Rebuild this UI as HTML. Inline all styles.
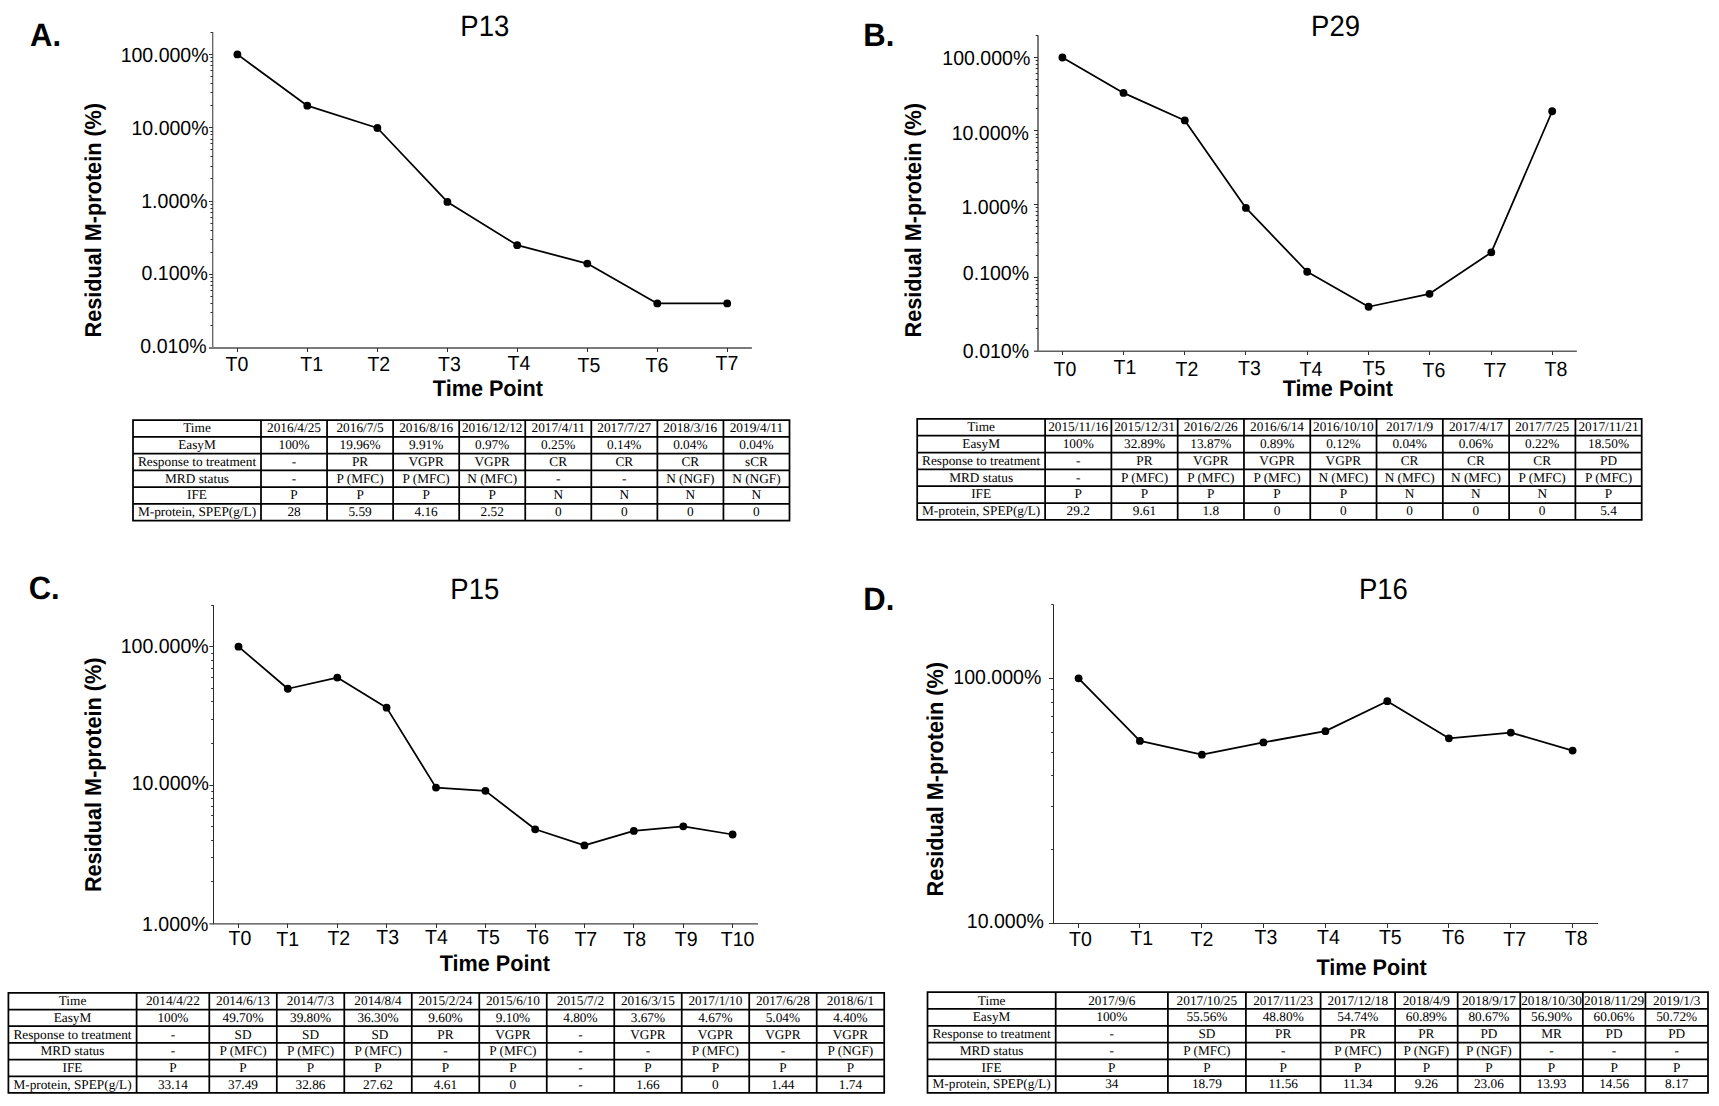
<!DOCTYPE html>
<html lang="en">
<head>
<meta charset="utf-8">
<title>Residual M-protein over time (P13, P29, P15, P16)</title>
<style>
html,body{margin:0;padding:0;background:#fff;}
body{width:1719px;height:1106px;overflow:hidden;position:relative;font-family:"Liberation Sans", Arial, Helvetica, sans-serif;color:#000;}
#fig{position:absolute;left:0;top:0;width:1719px;height:1106px;display:block;}
svg text{font-family:"Liberation Sans", Arial, Helvetica, sans-serif;fill:#000;text-rendering:geometricPrecision;}
.panel{font-size:31px;font-weight:bold;}
.title{font-size:27.5px;}
.tick{font-size:19.55px;}
.lab{font-size:21.65px;font-weight:bold;}
table.dt{position:absolute;border-collapse:collapse;table-layout:fixed;border-spacing:0;font-family:"Liberation Serif", "Times New Roman", Times, serif;font-size:13.3px;text-rendering:geometricPrecision;}
table.dt th,table.dt td{padding:0;margin:0;border:0;font-weight:normal;text-align:center;white-space:nowrap;overflow:visible;vertical-align:middle;}

#table-A tr{height:16.75px;line-height:16.75px;}
#table-B tr{height:16.83px;line-height:16.83px;}
#table-C tr{height:16.68px;line-height:16.68px;}
#table-D tr{height:16.78px;line-height:16.78px;}
</style>
</head>
<body>
<svg id="fig" role="img" aria-label="Residual M-protein (%) over time points for patients P13, P29, P15 and P16" width="1719" height="1106" viewBox="0 0 1719 1106">
<g class="chart" id="chart-A">
<path class="yaxis" d="M212.75 32.1V349" fill="none" stroke="#3c3c3c" stroke-width="1.05"/>
<path class="xaxis" d="M209 348H751.9" fill="none" stroke="#7a7a7a" stroke-width="2.0"/>
<path class="ticks" d="M210.45 32.5H212.75M210.45 105.5H212.75M210.45 92.5H212.75M210.45 83.5H212.75M210.45 76.5H212.75M210.45 70.5H212.75M210.45 65.5H212.75M210.45 61.5H212.75M210.45 57.5H212.75M210.45 178.5H212.75M210.45 166.5H212.75M210.45 156.5H212.75M210.45 149.5H212.75M210.45 143.5H212.75M210.45 139.5H212.75M210.45 134.5H212.75M210.45 131.5H212.75M210.45 252.5H212.75M210.45 239.5H212.75M210.45 230.5H212.75M210.45 223.5H212.75M210.45 217.5H212.75M210.45 212.5H212.75M210.45 208.5H212.75M210.45 204.5H212.75M210.45 325.5H212.75M210.45 312.5H212.75M210.45 303.5H212.75M210.45 296.5H212.75M210.45 290.5H212.75M210.45 285.5H212.75M210.45 281.5H212.75M210.45 277.5H212.75M209 54.5H212.75M209 127.5H212.75M209 201.5H212.75M209 274.5H212.75M237.5 348V352M307.5 348V352M377.5 348V352M447.5 348V352M517.5 348V352M587.5 348V352M657.5 348V352M727.5 348V352" fill="none" stroke="#2e2e2e" stroke-width="1"/>
<polyline class="series" points="237.4,54.4 307.3,105.7 377.4,127.99 447.4,201.97 517.2,245.13 587.3,263.59 657.3,303.47 727.2,303.47" fill="none" stroke="#000" stroke-width="1.75" stroke-linejoin="round"/>
<circle cx="237.4" cy="54.4" r="3.9"/>
<circle cx="307.3" cy="105.7" r="3.9"/>
<circle cx="377.4" cy="127.99" r="3.9"/>
<circle cx="447.4" cy="201.97" r="3.9"/>
<circle cx="517.2" cy="245.13" r="3.9"/>
<circle cx="587.3" cy="263.59" r="3.9"/>
<circle cx="657.3" cy="303.47" r="3.9"/>
<circle cx="727.2" cy="303.47" r="3.9"/>
<text class="panel" transform="translate(30 46.3) scale(1 1.045)">A.</text>
<text class="title" transform="translate(460.3 36.45) scale(1 1.07)">P13</text>
<text class="tick" transform="translate(208.6 61.5) scale(1 1.048)" text-anchor="end">100.000%</text>
<text class="tick" transform="translate(208.6 135.4) scale(1 1.048)" text-anchor="end">10.000%</text>
<text class="tick" transform="translate(207.5 207.6) scale(1 1.048)" text-anchor="end">1.000%</text>
<text class="tick" transform="translate(207.8 279.8) scale(1 1.048)" text-anchor="end">0.100%</text>
<text class="tick" transform="translate(206.6 353.4) scale(1 1.048)" text-anchor="end">0.010%</text>
<text class="tick" transform="translate(225.5 370.7) scale(1 1.048)">T0</text>
<text class="tick" transform="translate(300.2 371.2) scale(1 1.048)">T1</text>
<text class="tick" transform="translate(367.4 371.2) scale(1 1.048)">T2</text>
<text class="tick" transform="translate(438.1 370.9) scale(1 1.048)">T3</text>
<text class="tick" transform="translate(507.5 370.4) scale(1 1.048)">T4</text>
<text class="tick" transform="translate(577.6 371.5) scale(1 1.048)">T5</text>
<text class="tick" transform="translate(645.6 371.5) scale(1 1.048)">T6</text>
<text class="tick" transform="translate(715.6 370.4) scale(1 1.048)">T7</text>
<text class="lab" transform="translate(432.8 395.6) scale(1 1.05)">Time Point</text>
<text class="lab" transform="translate(100.9 337.4) rotate(-90) scale(1 1.06)">Residual M-protein (%)</text>
</g>
<g class="chart" id="chart-B">
<path class="yaxis" d="M1038 35.3V352" fill="none" stroke="#7c7c7c" stroke-width="2.0"/>
<path class="xaxis" d="M1034 351.3H1576.9" fill="none" stroke="#606060" stroke-width="1.4"/>
<path class="ticks" d="M1035.7 35.5H1038M1035.7 108.5H1038M1035.7 95.5H1038M1035.7 86.5H1038M1035.7 79.5H1038M1035.7 73.5H1038M1035.7 68.5H1038M1035.7 64.5H1038M1035.7 60.5H1038M1035.7 182.5H1038M1035.7 169.5H1038M1035.7 160.5H1038M1035.7 152.5H1038M1035.7 147.5H1038M1035.7 142.5H1038M1035.7 137.5H1038M1035.7 134.5H1038M1035.7 255.5H1038M1035.7 242.5H1038M1035.7 233.5H1038M1035.7 226.5H1038M1035.7 220.5H1038M1035.7 215.5H1038M1035.7 211.5H1038M1035.7 207.5H1038M1035.7 328.5H1038M1035.7 315.5H1038M1035.7 306.5H1038M1035.7 299.5H1038M1035.7 293.5H1038M1035.7 288.5H1038M1035.7 284.5H1038M1035.7 280.5H1038M1034 57.5H1038M1034 130.5H1038M1034 204.5H1038M1034 277.5H1038M1062.5 351.3V355M1123.5 351.3V355M1184.5 351.3V355M1245.5 351.3V355M1307.5 351.3V355M1368.5 351.3V355M1429.5 351.3V355M1491.5 351.3V355M1552.5 351.3V355" fill="none" stroke="#2e2e2e" stroke-width="1"/>
<polyline class="series" points="1062.4,57.5 1123.5,92.92 1184.8,120.43 1245.9,207.91 1307.2,271.74 1368.6,306.74 1429.5,293.82 1491.3,252.43 1552.2,111.25" fill="none" stroke="#000" stroke-width="1.75" stroke-linejoin="round"/>
<circle cx="1062.4" cy="57.5" r="3.9"/>
<circle cx="1123.5" cy="92.92" r="3.9"/>
<circle cx="1184.8" cy="120.43" r="3.9"/>
<circle cx="1245.9" cy="207.91" r="3.9"/>
<circle cx="1307.2" cy="271.74" r="3.9"/>
<circle cx="1368.6" cy="306.74" r="3.9"/>
<circle cx="1429.5" cy="293.82" r="3.9"/>
<circle cx="1491.3" cy="252.43" r="3.9"/>
<circle cx="1552.2" cy="111.25" r="3.9"/>
<text class="panel" transform="translate(863.3 46.1) scale(1 1.045)">B.</text>
<text class="title" transform="translate(1311.1 35.9) scale(1 1.07)">P29</text>
<text class="tick" transform="translate(1030.3 65.45) scale(1 1.048)" text-anchor="end">100.000%</text>
<text class="tick" transform="translate(1028.8 139.5) scale(1 1.048)" text-anchor="end">10.000%</text>
<text class="tick" transform="translate(1027.8 213.8) scale(1 1.048)" text-anchor="end">1.000%</text>
<text class="tick" transform="translate(1029.1 280.3) scale(1 1.048)" text-anchor="end">0.100%</text>
<text class="tick" transform="translate(1029.1 357.6) scale(1 1.048)" text-anchor="end">0.010%</text>
<text class="tick" transform="translate(1053.5 375.9) scale(1 1.048)">T0</text>
<text class="tick" transform="translate(1113.5 374.1) scale(1 1.048)">T1</text>
<text class="tick" transform="translate(1175.6 375.9) scale(1 1.048)">T2</text>
<text class="tick" transform="translate(1238 375.4) scale(1 1.048)">T3</text>
<text class="tick" transform="translate(1299.6 376.2) scale(1 1.048)">T4</text>
<text class="tick" transform="translate(1362.6 374.9) scale(1 1.048)">T5</text>
<text class="tick" transform="translate(1422.6 376.7) scale(1 1.048)">T6</text>
<text class="tick" transform="translate(1483.7 377) scale(1 1.048)">T7</text>
<text class="tick" transform="translate(1544.5 375.9) scale(1 1.048)">T8</text>
<text class="lab" transform="translate(1282.75 395.5) scale(1 1.05)">Time Point</text>
<text class="lab" transform="translate(920.9 337.4) rotate(-90) scale(1 1.06)">Residual M-protein (%)</text>
</g>
<g class="chart" id="chart-C">
<path class="yaxis" d="M213.5 605.1V924.38" fill="none" stroke="#2a2a2a" stroke-width="1.0"/>
<path class="xaxis" d="M209.4 923.78H758" fill="none" stroke="#444" stroke-width="1.2"/>
<path class="ticks" d="M211.2 605.5H213.5M211.2 743.5H213.5M211.2 719.5H213.5M211.2 701.5H213.5M211.2 688.5H213.5M211.2 677.5H213.5M211.2 668.5H213.5M211.2 660.5H213.5M211.2 653.5H213.5M211.2 881.5H213.5M211.2 857.5H213.5M211.2 840.5H213.5M211.2 826.5H213.5M211.2 815.5H213.5M211.2 806.5H213.5M211.2 798.5H213.5M211.2 791.5H213.5M209.4 646.5H213.5M209.4 785.5H213.5M238.5 923.78V928M287.5 923.78V928M337.5 923.78V928M386.5 923.78V928M436.5 923.78V928M485.5 923.78V928M535.5 923.78V928M584.5 923.78V928M633.5 923.78V928M683.5 923.78V928M732.5 923.78V928" fill="none" stroke="#2e2e2e" stroke-width="1"/>
<polyline class="series" points="238.5,646.7 287.8,688.74 337.3,677.62 386.6,707.63 436,787.6 485.4,790.82 535.2,829.28 584.4,845.42 633.8,830.93 683.3,826.35 732.6,834.51" fill="none" stroke="#000" stroke-width="1.75" stroke-linejoin="round"/>
<circle cx="238.5" cy="646.7" r="3.9"/>
<circle cx="287.8" cy="688.74" r="3.9"/>
<circle cx="337.3" cy="677.62" r="3.9"/>
<circle cx="386.6" cy="707.63" r="3.9"/>
<circle cx="436" cy="787.6" r="3.9"/>
<circle cx="485.4" cy="790.82" r="3.9"/>
<circle cx="535.2" cy="829.28" r="3.9"/>
<circle cx="584.4" cy="845.42" r="3.9"/>
<circle cx="633.8" cy="830.93" r="3.9"/>
<circle cx="683.3" cy="826.35" r="3.9"/>
<circle cx="732.6" cy="834.51" r="3.9"/>
<text class="panel" transform="translate(28.7 599) scale(1 1.045)">C.</text>
<text class="title" transform="translate(450.3 599.3) scale(1 1.07)">P15</text>
<text class="tick" transform="translate(208.7 653) scale(1 1.048)" text-anchor="end">100.000%</text>
<text class="tick" transform="translate(208.75 789.9) scale(1 1.048)" text-anchor="end">10.000%</text>
<text class="tick" transform="translate(208.3 930.6) scale(1 1.048)" text-anchor="end">1.000%</text>
<text class="tick" transform="translate(228.5 944.9) scale(1 1.048)">T0</text>
<text class="tick" transform="translate(276.2 945.5) scale(1 1.048)">T1</text>
<text class="tick" transform="translate(327.4 944.6) scale(1 1.048)">T2</text>
<text class="tick" transform="translate(376.2 944.2) scale(1 1.048)">T3</text>
<text class="tick" transform="translate(425 943.9) scale(1 1.048)">T4</text>
<text class="tick" transform="translate(477 943.6) scale(1 1.048)">T5</text>
<text class="tick" transform="translate(526.4 943.6) scale(1 1.048)">T6</text>
<text class="tick" transform="translate(574.4 945.5) scale(1 1.048)">T7</text>
<text class="tick" transform="translate(623.2 945.7) scale(1 1.048)">T8</text>
<text class="tick" transform="translate(674.7 946) scale(1 1.048)">T9</text>
<text class="tick" transform="translate(720.8 946.3) scale(1 1.048)">T10</text>
<text class="lab" transform="translate(439.65 970.7) scale(1 1.05)">Time Point</text>
<text class="lab" transform="translate(101.1 892.1) rotate(-90) scale(1 1.06)">Residual M-protein (%)</text>
</g>
<g class="chart" id="chart-D">
<path class="yaxis" d="M1053.5 604.6V924.1" fill="none" stroke="#262626" stroke-width="1.0"/>
<path class="xaxis" d="M1049 923.55H1598" fill="none" stroke="#333" stroke-width="1.1"/>
<path class="ticks" d="M1051.2 604.5H1053.5M1051.2 849.5H1053.5M1051.2 806.5H1053.5M1051.2 775.5H1053.5M1051.2 752.5H1053.5M1051.2 732.5H1053.5M1051.2 716.5H1053.5M1051.2 702.5H1053.5M1051.2 689.5H1053.5M1049 678.5H1053.5M1078.5 923.55V928M1139.5 923.55V928M1201.5 923.55V928M1263.5 923.55V928M1325.5 923.55V928M1387.5 923.55V928M1448.5 923.55V928M1510.5 923.55V928M1572.5 923.55V928" fill="none" stroke="#2e2e2e" stroke-width="1"/>
<polyline class="series" points="1078.6,678.3 1139.9,740.88 1201.9,754.7 1263.4,742.47 1325.4,731.13 1387.3,701.17 1448.9,738.35 1510.8,732.59 1572.6,750.59" fill="none" stroke="#000" stroke-width="1.75" stroke-linejoin="round"/>
<circle cx="1078.6" cy="678.3" r="3.9"/>
<circle cx="1139.9" cy="740.88" r="3.9"/>
<circle cx="1201.9" cy="754.7" r="3.9"/>
<circle cx="1263.4" cy="742.47" r="3.9"/>
<circle cx="1325.4" cy="731.13" r="3.9"/>
<circle cx="1387.3" cy="701.17" r="3.9"/>
<circle cx="1448.9" cy="738.35" r="3.9"/>
<circle cx="1510.8" cy="732.59" r="3.9"/>
<circle cx="1572.6" cy="750.59" r="3.9"/>
<text class="panel" transform="translate(863.3 609.9) scale(1 1.045)">D.</text>
<text class="title" transform="translate(1358.9 599.3) scale(1 1.07)">P16</text>
<text class="tick" transform="translate(1041.3 683.5) scale(1 1.048)" text-anchor="end">100.000%</text>
<text class="tick" transform="translate(1043.9 928.2) scale(1 1.048)" text-anchor="end">10.000%</text>
<text class="tick" transform="translate(1069 945.5) scale(1 1.048)">T0</text>
<text class="tick" transform="translate(1130.3 944.7) scale(1 1.048)">T1</text>
<text class="tick" transform="translate(1190.6 945.5) scale(1 1.048)">T2</text>
<text class="tick" transform="translate(1254.6 943.9) scale(1 1.048)">T3</text>
<text class="tick" transform="translate(1317 944.1) scale(1 1.048)">T4</text>
<text class="tick" transform="translate(1378.9 943.6) scale(1 1.048)">T5</text>
<text class="tick" transform="translate(1441.9 943.6) scale(1 1.048)">T6</text>
<text class="tick" transform="translate(1503.2 945.5) scale(1 1.048)">T7</text>
<text class="tick" transform="translate(1564.8 944.7) scale(1 1.048)">T8</text>
<text class="lab" transform="translate(1316.45 975) scale(1 1.05)">Time Point</text>
<text class="lab" transform="translate(942.9 896.5) rotate(-90) scale(1 1.06)">Residual M-protein (%)</text>
</g>
<path class="grid" id="grid-A" d="M132.12 420H790.38M132.12 436.75H790.38M132.12 453.5H790.38M132.12 470.25H790.38M132.12 487H790.38M132.12 503.75H790.38M132.12 520.5H790.38M133 420V520.5M261 420V520.5M327.06 420V520.5M393.12 420V520.5M459.19 420V520.5M525.25 420V520.5M591.31 420V520.5M657.38 420V520.5M723.44 420V520.5M789.5 420V520.5" fill="none" stroke="#000" stroke-width="1.75"/>
<path class="grid" id="grid-B" d="M916.33 418.85H1642.58M916.33 435.68H1642.58M916.33 452.51H1642.58M916.33 469.34H1642.58M916.33 486.17H1642.58M916.33 503H1642.58M916.33 519.83H1642.58M917.2 418.85V519.83M1045.1 418.85V519.83M1111.39 418.85V519.83M1177.68 418.85V519.83M1243.97 418.85V519.83M1310.26 418.85V519.83M1376.54 418.85V519.83M1442.83 418.85V519.83M1509.12 418.85V519.83M1575.41 418.85V519.83M1641.7 418.85V519.83" fill="none" stroke="#000" stroke-width="1.75"/>
<path class="grid" id="grid-C" d="M7.53 992.85H885.08M7.53 1009.53H885.08M7.53 1026.21H885.08M7.53 1042.89H885.08M7.53 1059.57H885.08M7.53 1076.25H885.08M7.53 1092.93H885.08M8.4 992.85V1092.93M136.6 992.85V1092.93M209.3 992.85V1092.93M276.79 992.85V1092.93M344.28 992.85V1092.93M411.77 992.85V1092.93M479.26 992.85V1092.93M546.75 992.85V1092.93M614.24 992.85V1092.93M681.73 992.85V1092.93M749.22 992.85V1092.93M816.71 992.85V1092.93M884.2 992.85V1092.93" fill="none" stroke="#000" stroke-width="1.75"/>
<path class="grid" id="grid-D" d="M926.62 992.2H1708.88M926.62 1008.98H1708.88M926.62 1025.76H1708.88M926.62 1042.54H1708.88M926.62 1059.32H1708.88M926.62 1076.1H1708.88M926.62 1092.88H1708.88M927.5 992.2V1092.88M1055.7 992.2V1092.88M1167.9 992.2V1092.88M1245.9 992.2V1092.88M1320.6 992.2V1092.88M1395.1 992.2V1092.88M1457.68 992.2V1092.88M1520.26 992.2V1092.88M1582.84 992.2V1092.88M1645.42 992.2V1092.88M1708 992.2V1092.88" fill="none" stroke="#000" stroke-width="1.75"/>
</svg>
<table class="dt" id="table-A" style="left:133px;top:420.3px;width:656.5px;height:100.5px">
<colgroup><col style="width:128px"><col style="width:66.06px"><col style="width:66.06px"><col style="width:66.06px"><col style="width:66.06px"><col style="width:66.06px"><col style="width:66.06px"><col style="width:66.06px"><col style="width:66.06px"></colgroup>
<tbody>
<tr><th scope="row">Time</th><td>2016/4/25</td><td>2016/7/5</td><td>2016/8/16</td><td>2016/12/12</td><td>2017/4/11</td><td>2017/7/27</td><td>2018/3/16</td><td>2019/4/11</td></tr>
<tr><th scope="row">EasyM</th><td>100%</td><td>19.96%</td><td>9.91%</td><td>0.97%</td><td>0.25%</td><td>0.14%</td><td>0.04%</td><td>0.04%</td></tr>
<tr><th scope="row">Response to treatment</th><td>-</td><td>PR</td><td>VGPR</td><td>VGPR</td><td>CR</td><td>CR</td><td>CR</td><td>sCR</td></tr>
<tr><th scope="row">MRD status</th><td>-</td><td>P (MFC)</td><td>P (MFC)</td><td>N (MFC)</td><td>-</td><td>-</td><td>N (NGF)</td><td>N (NGF)</td></tr>
<tr><th scope="row">IFE</th><td>P</td><td>P</td><td>P</td><td>P</td><td>N</td><td>N</td><td>N</td><td>N</td></tr>
<tr><th scope="row">M-protein, SPEP(g/L)</th><td>28</td><td>5.59</td><td>4.16</td><td>2.52</td><td>0</td><td>0</td><td>0</td><td>0</td></tr>
</tbody></table>
<table class="dt" id="table-B" style="left:917.2px;top:419.15px;width:724.5px;height:100.98px">
<colgroup><col style="width:127.9px"><col style="width:66.29px"><col style="width:66.29px"><col style="width:66.29px"><col style="width:66.29px"><col style="width:66.29px"><col style="width:66.29px"><col style="width:66.29px"><col style="width:66.29px"><col style="width:66.29px"></colgroup>
<tbody>
<tr><th scope="row">Time</th><td>2015/11/16</td><td>2015/12/31</td><td>2016/2/26</td><td>2016/6/14</td><td>2016/10/10</td><td>2017/1/9</td><td>2017/4/17</td><td>2017/7/25</td><td>2017/11/21</td></tr>
<tr><th scope="row">EasyM</th><td>100%</td><td>32.89%</td><td>13.87%</td><td>0.89%</td><td>0.12%</td><td>0.04%</td><td>0.06%</td><td>0.22%</td><td>18.50%</td></tr>
<tr><th scope="row">Response to treatment</th><td>-</td><td>PR</td><td>VGPR</td><td>VGPR</td><td>VGPR</td><td>CR</td><td>CR</td><td>CR</td><td>PD</td></tr>
<tr><th scope="row">MRD status</th><td>-</td><td>P (MFC)</td><td>P (MFC)</td><td>P (MFC)</td><td>N (MFC)</td><td>N (MFC)</td><td>N (MFC)</td><td>P (MFC)</td><td>P (MFC)</td></tr>
<tr><th scope="row">IFE</th><td>P</td><td>P</td><td>P</td><td>P</td><td>P</td><td>N</td><td>N</td><td>N</td><td>P</td></tr>
<tr><th scope="row">M-protein, SPEP(g/L)</th><td>29.2</td><td>9.61</td><td>1.8</td><td>0</td><td>0</td><td>0</td><td>0</td><td>0</td><td>5.4</td></tr>
</tbody></table>
<table class="dt" id="table-C" style="left:8.4px;top:993.15px;width:875.8px;height:100.08px">
<colgroup><col style="width:128.2px"><col style="width:72.7px"><col style="width:67.49px"><col style="width:67.49px"><col style="width:67.49px"><col style="width:67.49px"><col style="width:67.49px"><col style="width:67.49px"><col style="width:67.49px"><col style="width:67.49px"><col style="width:67.49px"><col style="width:67.49px"></colgroup>
<tbody>
<tr><th scope="row">Time</th><td>2014/4/22</td><td>2014/6/13</td><td>2014/7/3</td><td>2014/8/4</td><td>2015/2/24</td><td>2015/6/10</td><td>2015/7/2</td><td>2016/3/15</td><td>2017/1/10</td><td>2017/6/28</td><td>2018/6/1</td></tr>
<tr><th scope="row">EasyM</th><td>100%</td><td>49.70%</td><td>39.80%</td><td>36.30%</td><td>9.60%</td><td>9.10%</td><td>4.80%</td><td>3.67%</td><td>4.67%</td><td>5.04%</td><td>4.40%</td></tr>
<tr><th scope="row">Response to treatment</th><td>-</td><td>SD</td><td>SD</td><td style="padding-left:4px">SD</td><td>PR</td><td>VGPR</td><td>-</td><td>VGPR</td><td>VGPR</td><td>VGPR</td><td>VGPR</td></tr>
<tr><th scope="row">MRD status</th><td>-</td><td>P (MFC)</td><td>P (MFC)</td><td>P (MFC)</td><td>-</td><td>P (MFC)</td><td>-</td><td>-</td><td>P (MFC)</td><td>-</td><td>P (NGF)</td></tr>
<tr><th scope="row">IFE</th><td>P</td><td>P</td><td>P</td><td>P</td><td>P</td><td>P</td><td>-</td><td>P</td><td>P</td><td>P</td><td>P</td></tr>
<tr><th scope="row">M-protein, SPEP(g/L)</th><td>33.14</td><td>37.49</td><td>32.86</td><td>27.62</td><td>4.61</td><td>0</td><td>-</td><td>1.66</td><td>0</td><td>1.44</td><td>1.74</td></tr>
</tbody></table>
<table class="dt" id="table-D" style="left:927.5px;top:992.5px;width:780.5px;height:100.68px">
<colgroup><col style="width:128.2px"><col style="width:112.2px"><col style="width:78px"><col style="width:74.7px"><col style="width:74.5px"><col style="width:62.58px"><col style="width:62.58px"><col style="width:62.58px"><col style="width:62.58px"><col style="width:62.58px"></colgroup>
<tbody>
<tr><th scope="row">Time</th><td>2017/9/6</td><td>2017/10/25</td><td>2017/11/23</td><td>2017/12/18</td><td>2018/4/9</td><td>2018/9/17</td><td>2018/10/30</td><td>2018/11/29</td><td>2019/1/3</td></tr>
<tr><th scope="row">EasyM</th><td>100%</td><td>55.56%</td><td>48.80%</td><td>54.74%</td><td>60.89%</td><td>80.67%</td><td>56.90%</td><td>60.06%</td><td>50.72%</td></tr>
<tr><th scope="row">Response to treatment</th><td>-</td><td>SD</td><td>PR</td><td>PR</td><td>PR</td><td>PD</td><td>MR</td><td>PD</td><td>PD</td></tr>
<tr><th scope="row">MRD status</th><td>-</td><td>P (MFC)</td><td>-</td><td>P (MFC)</td><td>P (NGF)</td><td>P (NGF)</td><td>-</td><td>-</td><td>-</td></tr>
<tr><th scope="row">IFE</th><td>P</td><td>P</td><td>P</td><td>P</td><td>P</td><td>P</td><td>P</td><td>P</td><td>P</td></tr>
<tr><th scope="row">M-protein, SPEP(g/L)</th><td>34</td><td>18.79</td><td>11.56</td><td>11.34</td><td>9.26</td><td>23.06</td><td>13.93</td><td>14.56</td><td>8.17</td></tr>
</tbody></table>
</body>
</html>
